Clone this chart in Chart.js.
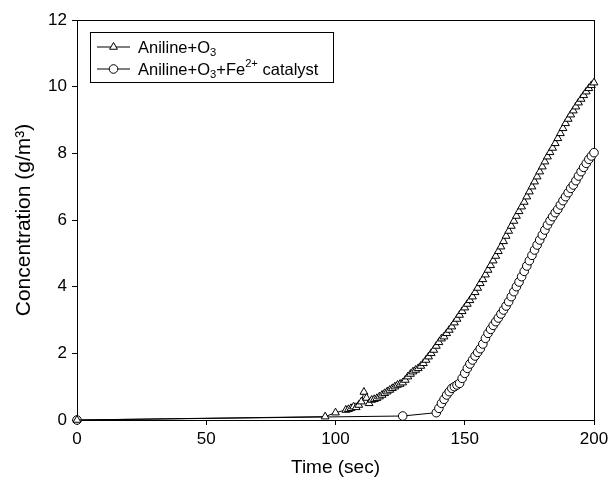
<!DOCTYPE html>
<html lang="en">
  <head>
    <meta charset="UTF-8" />
    <title>Aniline concentration</title>
    <script src="https://cdn.jsdelivr.net/npm/chart.js"></script>
    <style>
      html, body { margin: 0; padding: 0; background: #fff; }
      #wrap { width: 613px; height: 479px; }
    </style>
  </head>
  <body>
    <div id="wrap"><canvas id="concChart" width="613" height="479"></canvas></div>
    <script>
      // Aniline + O3 (triangles)
      const ozoneTime = [0, 96, 100,
        104, 105, 106, 107, 108, 109, 110, 111, 112, 113, 114, 115, 116, 117, 118, 119,
        120, 121, 122, 123, 124, 125, 126, 127, 128, 129, 130, 131, 132, 133, 134, 135, 136, 137, 138, 139,
        140, 141, 142, 143, 144, 145, 146, 147, 148, 149, 150, 151, 152, 153, 154, 155, 156, 157, 158, 159,
        160, 161, 162, 163, 164, 165, 166, 167, 168, 169, 170, 171, 172, 173, 174, 175, 176, 177, 178, 179,
        180, 181, 182, 183, 184, 185, 186, 187, 188, 189, 190, 191, 192, 193, 194, 195, 196, 197, 198, 199, 200];
      const ozoneConc = [0, 0.1, 0.22,
        0.3, 0.32, 0.35, 0.4, 0.38, 0.45, 0.55, 0.84, 0.66, 0.5, 0.6, 0.62, 0.65, 0.7, 0.75, 0.8,
        0.85, 0.9, 0.95, 1.0, 1.05, 1.08, 1.12, 1.2, 1.3, 1.38, 1.45, 1.5, 1.55, 1.62, 1.7, 1.8, 1.9, 2.0, 2.1, 2.22,
        2.33, 2.44, 2.5, 2.6, 2.7, 2.8, 2.92, 3.03, 3.15, 3.26, 3.37, 3.48, 3.59, 3.7, 3.83, 3.96, 4.1, 4.22, 4.36, 4.5,
        4.64, 4.78, 4.92, 5.06, 5.2, 5.36, 5.52, 5.67, 5.82, 5.97, 6.12, 6.26, 6.4, 6.54, 6.7, 6.85, 7.0, 7.15, 7.3, 7.45,
        7.6, 7.75, 7.9, 8.03, 8.16, 8.3, 8.45, 8.6, 8.75, 8.9, 9.03, 9.16, 9.28, 9.4, 9.52, 9.63, 9.74, 9.85, 9.95, 10.04, 10.12];

      // Aniline + O3 + Fe2+ catalyst (circles)
      const catalystTime = [0, 126, 139,
        140, 141, 142, 143, 144, 145, 146, 147, 148, 149, 150, 151, 152, 153, 154, 155, 156, 157, 158, 159,
        160, 161, 162, 163, 164, 165, 166, 167, 168, 169, 170, 171, 172, 173, 174, 175, 176, 177, 178, 179,
        180, 181, 182, 183, 184, 185, 186, 187, 188, 189, 190, 191, 192, 193, 194, 195, 196, 197, 198, 199, 200];
      const catalystConc = [0, 0.12, 0.22,
        0.35, 0.5, 0.62, 0.75, 0.85, 0.95, 1.0, 1.05, 1.1, 1.25, 1.4, 1.55, 1.68, 1.8, 1.92, 2.03, 2.14, 2.28, 2.45, 2.6,
        2.72, 2.84, 2.95, 3.06, 3.18, 3.3, 3.42, 3.55, 3.7, 3.85, 4.0, 4.14, 4.3, 4.46, 4.62, 4.78, 4.94, 5.1, 5.25, 5.4,
        5.55, 5.7, 5.85, 5.98, 6.1, 6.22, 6.32, 6.45, 6.58, 6.7, 6.82, 6.95, 7.05, 7.18, 7.32, 7.45, 7.58, 7.7, 7.82, 7.92, 8.02];

      const seriesLabels = ["Aniline+O₃", "Aniline+O₃+Fe²⁺ catalyst"];
      const xTickStep = 50;
      const yTickStep = 2;

      const FONT = '"Liberation Sans", Arial, Helvetica, sans-serif';

      function toPoints(xs, ys) {
        return xs.map((x, i) => ({ x: x, y: ys[i] }));
      }

      // label pieces with sub/superscripts for the legend box
      const legendParts = [
        [{ t: "Aniline+O" }, { t: "3", sub: true }],
        [{ t: "Aniline+O" }, { t: "3", sub: true }, { t: "+Fe" }, { t: "2+", sup: true }, { t: " catalyst" }],
      ];

      function drawRich(ctx, parts, x, y, size) {
        parts.forEach((p) => {
          const s = p.sub || p.sup ? size * 0.68 : size;
          ctx.font = s + "px " + FONT;
          const dy = p.sub ? size * 0.28 : p.sup ? -size * 0.38 : 0;
          ctx.fillText(p.t, x, y + dy);
          x += ctx.measureText(p.t).width;
        });
      }

      const framePlugin = {
        id: "frame",
        beforeDatasetsDraw(chart) {
          const a = chart.chartArea;
          const ctx = chart.ctx;
          ctx.save();
          ctx.strokeStyle = "#000";
          ctx.lineWidth = 1;
          ctx.strokeRect(a.left + 0.5, a.top + 0.5, a.right - a.left, a.bottom - a.top);
          ctx.restore();
        },
      };

      const legendPlugin = {
        id: "boxLegend",
        afterDatasetsDraw(chart) {
          const ctx = chart.ctx;
          const box = { x: 90.5, y: 32.5, w: 243, h: 50 };
          ctx.save();
          ctx.fillStyle = "#fff";
          ctx.fillRect(box.x, box.y, box.w, box.h);
          ctx.strokeStyle = "#000";
          ctx.lineWidth = 1;
          ctx.strokeRect(box.x, box.y, box.w, box.h);
          chart.data.datasets.forEach((ds, i) => {
            const y = 47 + i * 22;
            ctx.strokeStyle = "#000";
            ctx.beginPath();
            ctx.moveTo(97, y);
            ctx.lineTo(130, y);
            ctx.stroke();
            ctx.fillStyle = "#fff";
            Chart.helpers.drawPoint(ctx, {
              pointStyle: ds.pointStyle,
              radius: ds.pointRadius,
              borderWidth: 1,
              rotation: 0,
            }, 113.5, y);
            ctx.fillStyle = "#000";
            ctx.textBaseline = "middle";
            drawRich(ctx, legendParts[i], 138, y + 1, 16.5);
          });
          ctx.restore();
        },
      };

      const ctx = document.getElementById("concChart").getContext("2d");
      const concChart = new Chart(ctx, {
        type: "line",
        data: {
          datasets: [
            {
              label: seriesLabels[0],
              data: toPoints(ozoneTime, ozoneConc),
              borderColor: "#000",
              borderWidth: 1,
              backgroundColor: "#fff",
              pointStyle: "triangle",
              pointRadius: 4.5,
              pointBorderColor: "#000",
              pointBackgroundColor: "#fff",
              pointBorderWidth: 1,
              tension: 0,
              clip: false,
            },
            {
              label: seriesLabels[1],
              data: toPoints(catalystTime, catalystConc),
              borderColor: "#000",
              borderWidth: 1,
              backgroundColor: "#fff",
              pointStyle: "circle",
              pointRadius: 4.3,
              pointBorderColor: "#000",
              pointBackgroundColor: "#fff",
              pointBorderWidth: 1,
              tension: 0,
              clip: false,
            },
          ],
        },
        options: {
          responsive: false,
          animation: false,
          layout: { padding: { top: 20, right: 19, left: 0, bottom: 0 } },
          plugins: {
            legend: { display: false },
            tooltip: { enabled: false },
          },
          scales: {
            x: {
              type: "linear",
              min: 0,
              max: 200,
              ticks: { stepSize: xTickStep, color: "#000", padding: 4, font: { family: FONT, size: 17 } },
              grid: { drawOnChartArea: false, tickLength: 5, color: "#000" },
              border: { color: "#000", width: 1 },
              title: { display: true, text: "Time (sec)", color: "#000", padding: { top: 1, bottom: 0 }, font: { family: FONT, size: 19 } },
              afterFit(scale) { scale.height = 59; },
            },
            y: {
              type: "linear",
              min: 0,
              max: 12,
              ticks: { stepSize: yTickStep, color: "#000", padding: 5, font: { family: FONT, size: 17 } },
              grid: { drawOnChartArea: false, tickLength: 5, color: "#000" },
              border: { color: "#000", width: 1 },
              title: { display: true, text: "Concentration (g/m³)", color: "#000", padding: { top: 12, bottom: 0 }, font: { family: FONT, size: 21 } },
              afterFit(scale) { scale.width = 77; },
            },
          },
        },
        plugins: [framePlugin, legendPlugin],
      });
    </script>
  </body>
</html>
